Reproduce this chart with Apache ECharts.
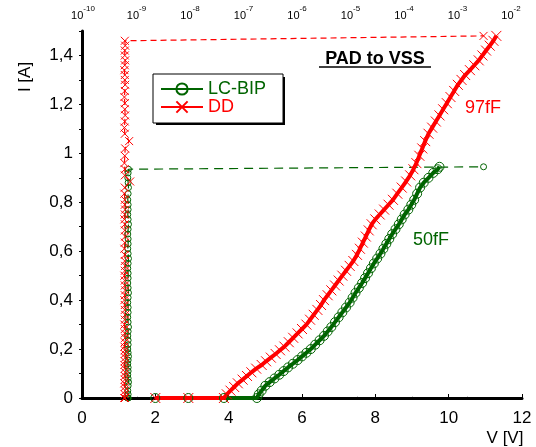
<!DOCTYPE html>
<html>
<head>
<meta charset="utf-8">
<script src="https://cdn.jsdelivr.net/npm/echarts@6/dist/echarts.min.js"></script>
<style>
  html, body { margin: 0; padding: 0; background: #fff; }
  #chart { width: 536px; height: 447px; }
</style>
</head>
<body>
<div id="chart"></div>
<script>
/* =================================
   数据 (TLP: V / I, leakage: A)
================================= */

var xTicks = [0, 2, 4, 6, 8, 10, 12];
var yTicks = [0, 0.2, 0.4, 0.6, 0.8, 1, 1.2, 1.4];
var leakTicks = [1e-10, 1e-9, 1e-8, 1e-7, 1e-6, 1e-5, 1e-4, 1e-3, 1e-2];

var seriesNames = ["LC-BIP", "DD"];
var capLabels = ["50fF", "97fF"];

var lcVoltage = [
  2.0, 2.9, 3.87, 4.77, 4.82, 4.9, 5.0, 5.12, 5.25, 5.38,
  5.5, 5.62, 5.75, 5.88, 6.0, 6.12, 6.24, 6.36, 6.48, 6.6,
  6.7, 6.8, 6.9, 7.0, 7.1, 7.2, 7.3, 7.38, 7.46, 7.55,
  7.64, 7.72, 7.8, 7.88, 7.96, 8.05, 8.14, 8.22, 8.3, 8.38,
  8.46, 8.55, 8.64, 8.72, 8.8, 8.9, 8.98, 9.06, 9.14, 9.22,
  9.32, 9.45, 9.58, 9.7, 9.75
];
var lcCurrent = [
  0, 0, 0, 0, 0.015, 0.03, 0.05, 0.065, 0.08, 0.095,
  0.11, 0.125, 0.14, 0.155, 0.17, 0.185, 0.2, 0.218, 0.236, 0.254,
  0.272, 0.29, 0.31, 0.33, 0.35, 0.37, 0.39, 0.41, 0.43, 0.45,
  0.47, 0.49, 0.51, 0.53, 0.55, 0.57, 0.59, 0.61, 0.63, 0.65,
  0.67, 0.69, 0.71, 0.73, 0.75, 0.77, 0.79, 0.81, 0.835, 0.86,
  0.88, 0.9, 0.92, 0.935, 0.945
];
var lcLeakage = [
  6.8e-10, 6.9e-10, 6.8e-10, 6.9e-10, 6.9e-10, 6.8e-10, 6.9e-10, 7.0e-10, 6.9e-10, 6.8e-10,
  6.9e-10, 6.9e-10, 6.8e-10, 6.9e-10, 7.0e-10, 6.9e-10, 6.8e-10, 6.9e-10, 6.9e-10, 6.8e-10,
  6.9e-10, 7.0e-10, 6.9e-10, 6.8e-10, 6.9e-10, 6.9e-10, 6.8e-10, 6.9e-10, 7.0e-10, 6.9e-10,
  6.8e-10, 6.9e-10, 6.9e-10, 6.8e-10, 6.9e-10, 7.0e-10, 6.9e-10, 6.8e-10, 6.9e-10, 6.9e-10,
  6.8e-10, 6.9e-10, 7.0e-10, 6.9e-10, 6.8e-10, 6.9e-10, 6.9e-10, 6.8e-10, 6.9e-10, 7.0e-10,
  6.9e-10, 6.8e-10, 6.9e-10, 7.0e-10, 2.0e-3
];

var ddVoltage = [
  2.0, 2.9, 3.87, 3.95, 4.05, 4.15, 4.25, 4.38, 4.5, 4.62,
  4.75, 4.9, 5.02, 5.15, 5.28, 5.4, 5.52, 5.64, 5.76, 5.88,
  6.0, 6.12, 6.22, 6.32, 6.42, 6.52, 6.6, 6.7, 6.8, 6.9,
  7.0, 7.1, 7.2, 7.3, 7.4, 7.5, 7.58, 7.66, 7.74, 7.82,
  7.9, 8.0, 8.12, 8.24, 8.36, 8.48, 8.6, 8.72, 8.84, 8.95,
  9.04, 9.12, 9.2, 9.28, 9.36, 9.45, 9.55, 9.65, 9.75, 9.85,
  9.95, 10.05, 10.15, 10.25, 10.35, 10.45, 10.58, 10.7, 10.82, 10.92,
  11.02, 11.12, 11.22, 11.3
];
var ddCurrent = [
  0, 0, 0, 0.015, 0.03, 0.045, 0.06, 0.075, 0.09, 0.105,
  0.12, 0.135, 0.15, 0.165, 0.18, 0.195, 0.21, 0.228, 0.246, 0.264,
  0.282, 0.3, 0.32, 0.34, 0.36, 0.38, 0.4, 0.42, 0.44, 0.46,
  0.48, 0.5, 0.52, 0.54, 0.56, 0.585, 0.61, 0.635, 0.66, 0.685,
  0.71, 0.73, 0.75, 0.77, 0.79, 0.81, 0.835, 0.86, 0.885, 0.91,
  0.935, 0.96, 0.99, 1.02, 1.05, 1.08, 1.105, 1.13, 1.155, 1.18,
  1.205, 1.23, 1.255, 1.28, 1.3, 1.32, 1.34, 1.36, 1.38, 1.4,
  1.42, 1.44, 1.46, 1.48
];
var ddLeakage = [
  6.0e-10, 6.0e-10, 5.9e-10, 6.0e-10, 6.1e-10, 6.0e-10, 5.9e-10, 6.0e-10, 6.0e-10, 6.1e-10,
  6.0e-10, 5.9e-10, 6.0e-10, 6.1e-10, 6.0e-10, 6.0e-10, 5.9e-10, 6.0e-10, 6.1e-10, 6.0e-10,
  6.0e-10, 5.9e-10, 6.0e-10, 6.1e-10, 6.0e-10, 6.0e-10, 5.9e-10, 6.0e-10, 6.1e-10, 6.0e-10,
  6.0e-10, 5.9e-10, 6.0e-10, 6.1e-10, 6.0e-10, 6.0e-10, 5.9e-10, 6.0e-10, 6.1e-10, 6.0e-10,
  6.0e-10, 5.9e-10, 6.0e-10, 6.1e-10, 6.0e-10, 6.0e-10, 5.9e-10, 6.0e-10, 7.5e-10, 6.0e-10,
  6.0e-10, 5.9e-10, 6.0e-10, 6.1e-10, 7.2e-10, 6.0e-10, 5.9e-10, 6.0e-10, 6.1e-10, 6.0e-10,
  6.0e-10, 5.9e-10, 6.0e-10, 6.1e-10, 6.0e-10, 6.0e-10, 5.9e-10, 6.0e-10, 6.1e-10, 6.0e-10,
  6.0e-10, 6.1e-10, 6.0e-10, 2.0e-3
];

/* =================================
   图表
================================= */

var GREEN = "#006400";
var RED = "#ff0000";
var FONT = "'Liberation Sans', Arial, sans-serif";
var CROSS = "path://M0,0L10,10M0,10L10,0";

function pairs(xs, ys) {
  var out = [];
  for (var i = 0; i < xs.length; i++) out.push([xs[i], ys[i]]);
  return out;
}

function commaLabel(v) {
  if (yTicks.indexOf(Math.round(v * 10) / 10) < 0) return "";
  return String(Math.round(v * 10) / 10).replace(".", ",");
}

function powLabel(v) {
  var e = Math.round(Math.log(v) / Math.LN10);
  return "{a|10}{b|" + e + "}";
}

var chart = echarts.init(document.getElementById("chart"), null, { renderer: "canvas" });

chart.setOption({
  animation: false,
  textStyle: { fontFamily: FONT },
  grid: [
    { left: 82, right: 14, top: 31, bottom: 49 },
    { left: 83, right: 25, top: 31, bottom: 49 }
  ],
  xAxis: [
    {
      type: "value", gridIndex: 0, position: "bottom", z: 3,
      min: xTicks[0], max: xTicks[xTicks.length - 1], interval: 2,
      axisLine: { show: true, onZero: false, lineStyle: { color: "#000", width: 3 } },
      axisTick: { show: true, inside: true, length: 4, lineStyle: { color: "#000" } },
      axisLabel: { fontSize: 17, color: "#000", margin: 12, fontFamily: FONT },
      splitLine: { show: false }
    },
    {
      type: "log", gridIndex: 0, position: "top", logBase: 10,
      min: leakTicks[0], max: leakTicks[leakTicks.length - 1], splitNumber: 8,
      offset: 10,
      axisLine: { show: false },
      axisTick: { show: true, length: 2, lineStyle: { color: "#ccc" } },
      axisLabel: { show: false },
      splitLine: { show: false }
    },
    {
      type: "log", gridIndex: 1, position: "top", logBase: 10,
      min: leakTicks[0], max: leakTicks[leakTicks.length - 1], splitNumber: 8,
      axisLine: { show: false },
      axisTick: { show: false },
      axisLabel: {
        margin: 10, formatter: powLabel,
        rich: {
          a: { fontSize: 11, lineHeight: 16, verticalAlign: "bottom", color: "#000", fontFamily: FONT },
          b: { fontSize: 8, lineHeight: 16, verticalAlign: "top", color: "#000", fontFamily: FONT }
        }
      },
      splitLine: { show: false }
    }
  ],
  yAxis: [
    {
      type: "value", gridIndex: 0, min: 0, max: 1.5, interval: 0.2, z: 3,
      axisLine: { show: true, onZero: false, lineStyle: { color: "#000", width: 3 } },
      axisTick: { show: true, length: 3, lineStyle: { color: "#000" } },
      minorTick: { show: true, splitNumber: 2, length: 3, lineStyle: { color: "#000" } },
      axisLabel: { fontSize: 17, color: "#000", margin: 9, formatter: commaLabel, fontFamily: FONT },
      splitLine: { show: false }
    },
    { type: "value", gridIndex: 1, min: 0, max: 1.5, show: false }
  ],
  legend: {
    data: [
      { name: seriesNames[0], textStyle: { color: GREEN } },
      { name: seriesNames[1], textStyle: { color: RED } }
    ],
    orient: "vertical", left: 153, top: 74,
    itemWidth: 42, itemHeight: 14, itemGap: 0,
    padding: [6, 17, 7, 7],
    backgroundColor: "#fff", borderColor: "#000", borderWidth: 1,
    textStyle: { fontSize: 18, fontFamily: FONT }
  },
  series: [
    {
      name: "LC-BIP leakage", type: "line", xAxisIndex: 1, yAxisIndex: 0,
      data: pairs(lcLeakage, lcCurrent),
      symbol: "circle", symbolSize: 6,
      itemStyle: { color: "rgba(0,0,0,0)", borderColor: GREEN, borderWidth: 1 },
      lineStyle: { color: GREEN, width: 1.2, type: [9, 6] },
      emphasis: { disabled: true }
    },
    {
      name: "DD leakage", type: "line", xAxisIndex: 1, yAxisIndex: 0,
      data: pairs(ddLeakage, ddCurrent),
      symbol: CROSS, symbolSize: 8,
      itemStyle: { color: RED, borderColor: RED, borderWidth: 1 },
      lineStyle: { color: RED, width: 1.2, type: [6, 4] },
      emphasis: { disabled: true }
    },
    {
      name: seriesNames[0], type: "line", xAxisIndex: 0, yAxisIndex: 0,
      data: pairs(lcVoltage, lcCurrent),
      symbol: "circle", symbolSize: 9,
      itemStyle: { color: "rgba(0,0,0,0)", borderColor: GREEN, borderWidth: 1 },
      lineStyle: { color: GREEN, width: 4 },
      emphasis: { disabled: true }
    },
    {
      name: seriesNames[1], type: "line", xAxisIndex: 0, yAxisIndex: 0,
      data: pairs(ddVoltage, ddCurrent),
      symbol: CROSS, symbolSize: 10,
      itemStyle: { color: RED, borderColor: RED, borderWidth: 1 },
      lineStyle: { color: RED, width: 4 },
      emphasis: { disabled: true }
    }
  ],
  graphic: [
    {
      // legend drop shadow
      type: "rect", z: 3, shape: { x: 156, y: 77, width: 129, height: 48 },
      style: { fill: "#000" }
    },
    {
      type: "text", x: 25, y: 77, rotation: Math.PI / 2,
      style: { text: "I [A]", fill: "#000", font: "17px " + FONT, textAlign: "center", textVerticalAlign: "middle" }
    },
    {
      type: "text", x: 505, y: 438,
      style: { text: "V [V]", fill: "#000", font: "17px " + FONT, textAlign: "center", textVerticalAlign: "middle" }
    },
    {
      type: "text", x: 375, y: 59,
      style: { text: "PAD to VSS", fill: "#000", font: "bold 18px " + FONT, textAlign: "center", textVerticalAlign: "middle" }
    },
    {
      type: "line", shape: { x1: 319, y1: 67, x2: 431, y2: 67 },
      style: { stroke: "#000", lineWidth: 1.5 }
    },
    {
      type: "text", x: 465, y: 108,
      style: { text: capLabels[1], fill: RED, font: "18px " + FONT, textAlign: "left", textVerticalAlign: "middle" }
    },
    {
      type: "text", x: 413, y: 240,
      style: { text: capLabels[0], fill: GREEN, font: "18px " + FONT, textAlign: "left", textVerticalAlign: "middle" }
    }
  ]
});
</script>
</body>
</html>
